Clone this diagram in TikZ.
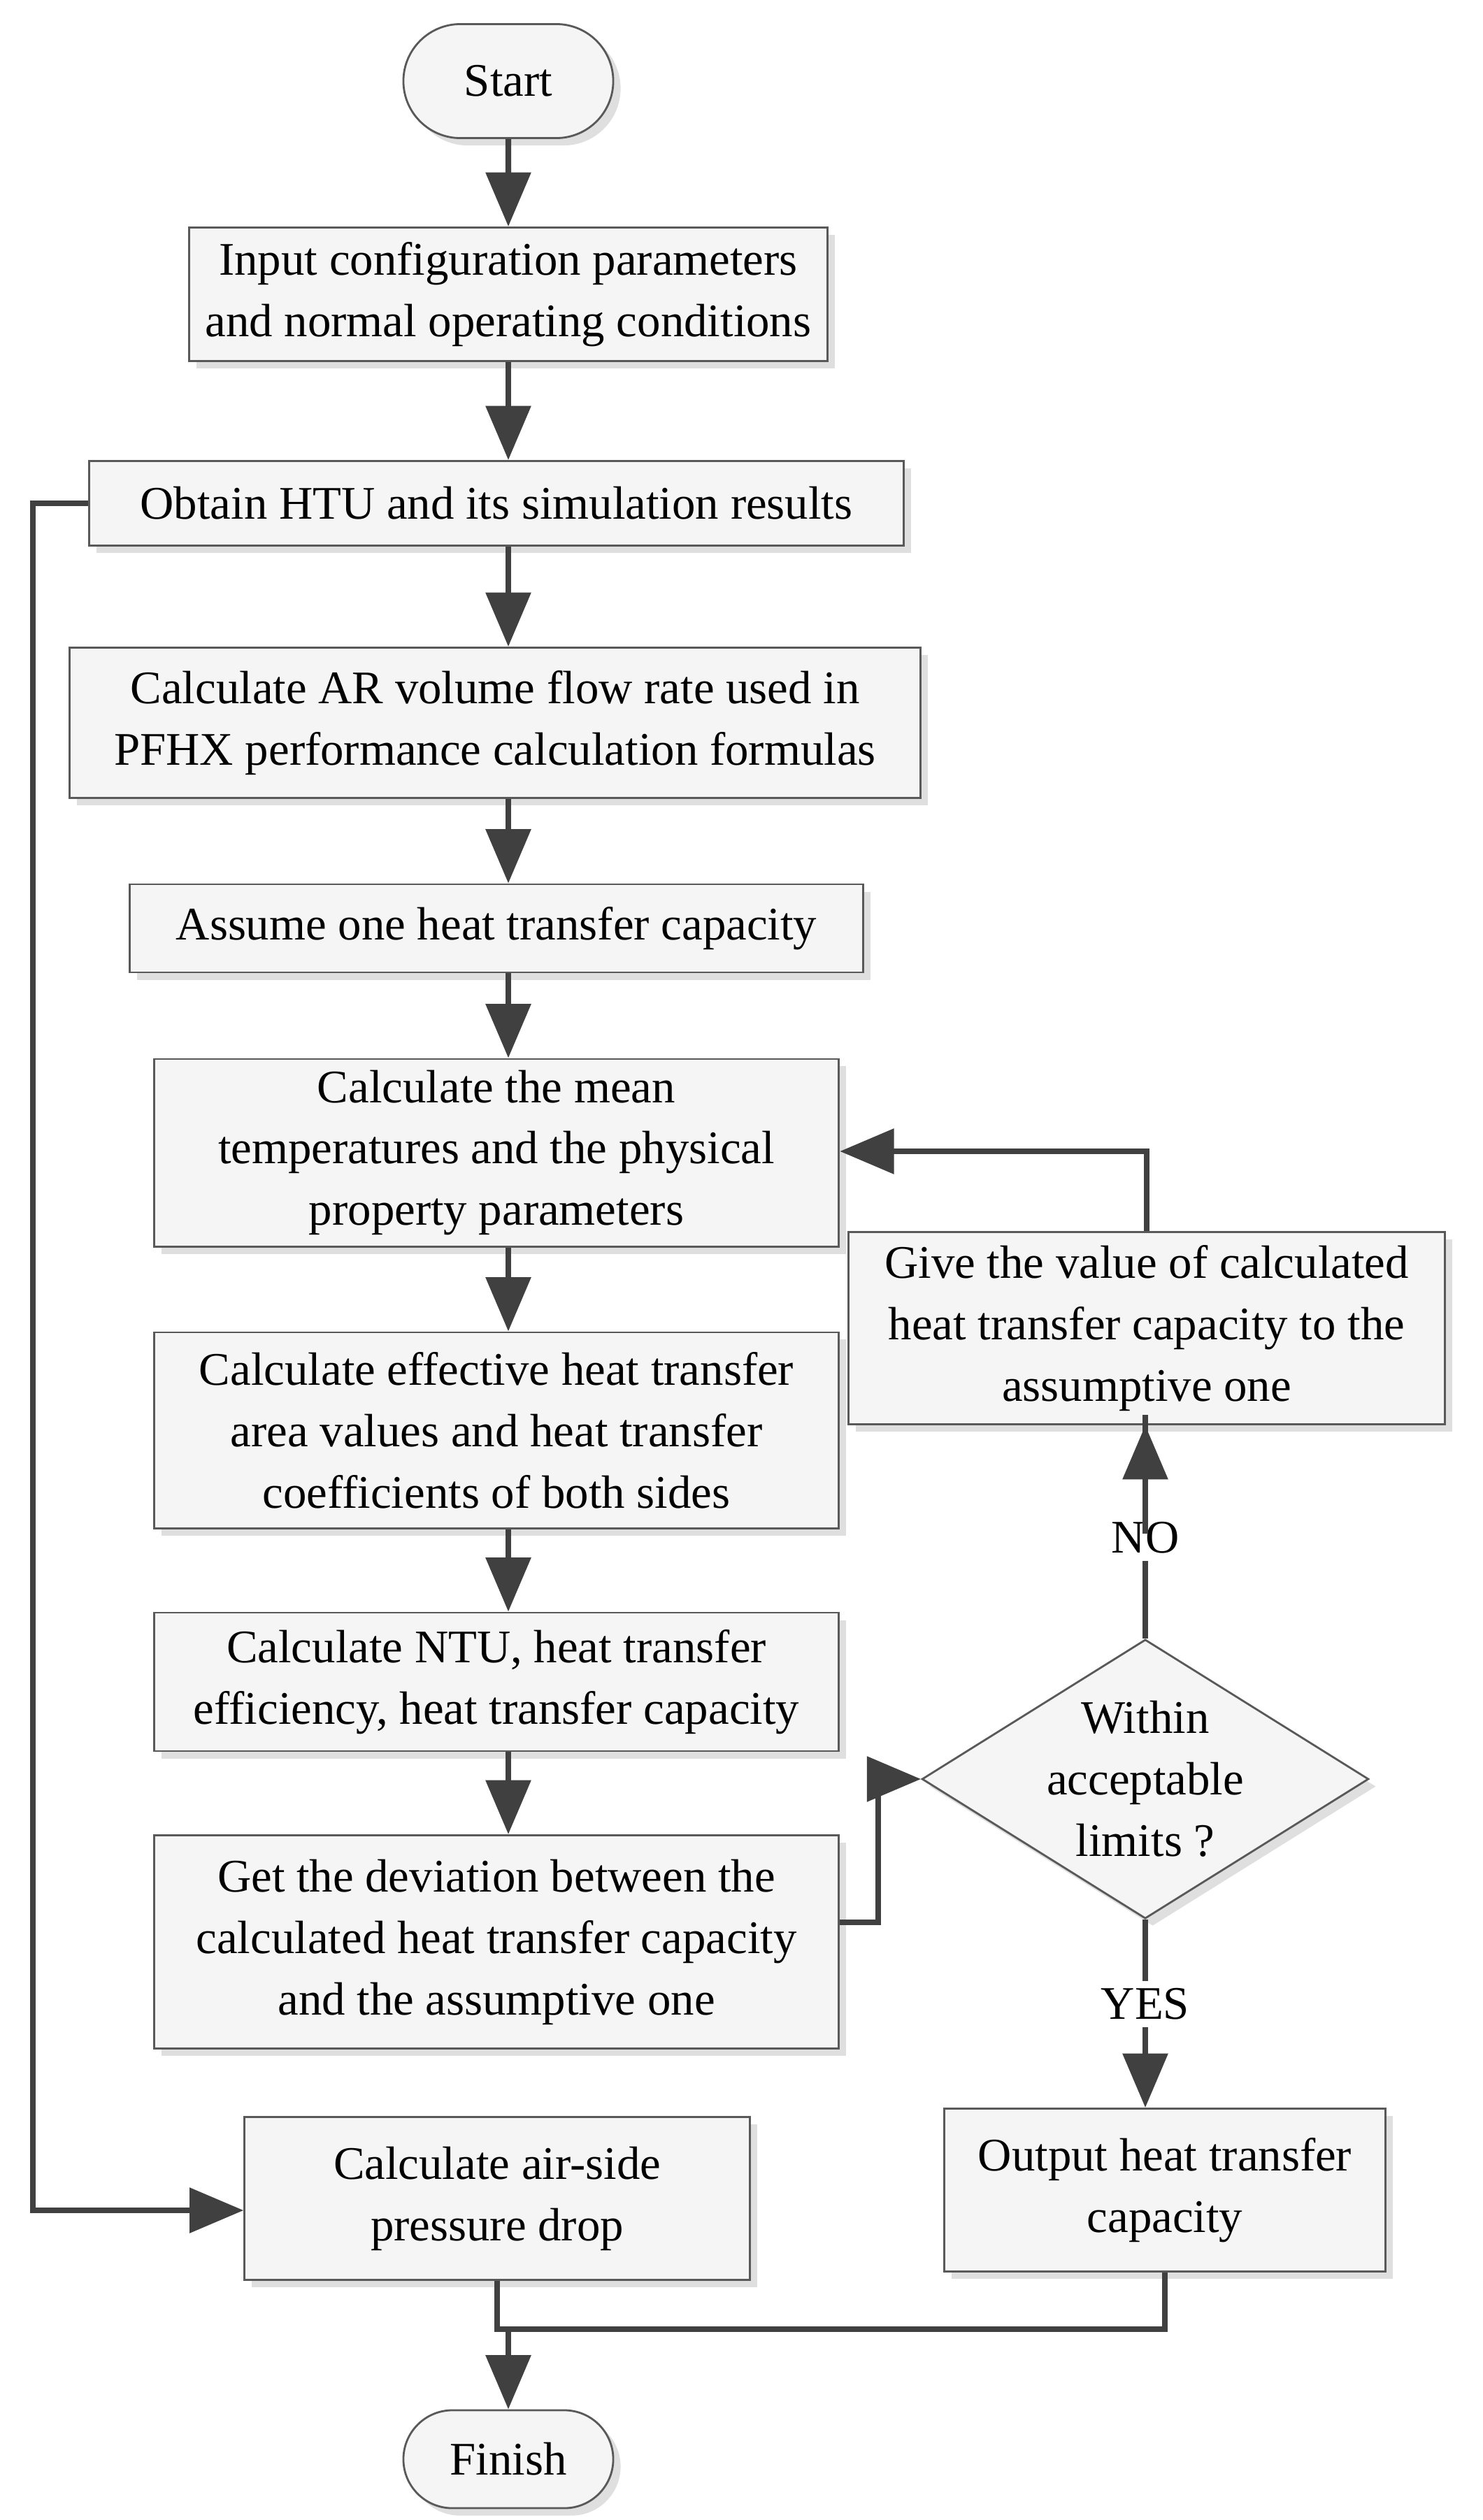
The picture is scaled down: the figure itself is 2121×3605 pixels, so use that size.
\documentclass[tikz,border=0pt]{standalone}
\usepackage{fontspec}
\setmainfont{Liberation Serif}
\usetikzlibrary{shapes.geometric,shapes.misc,arrows.meta,shadows}
\begin{document}
\begin{tikzpicture}[x=0.01cm,y=-0.01cm,
  box/.style={draw=gray!70!black,line width=0.8pt,fill=gray!8,drop shadow={shadow xshift=3pt,shadow yshift=-3pt,opacity=0.25},
    align=center,font=\fontsize{19}{25}\selectfont,inner sep=2pt},
  term/.style={box,rounded rectangle},
  dia/.style={box,diamond,aspect=1.6,inner sep=0pt},
  arr/.style={draw=black!75,line width=2.4pt,-{Triangle[length=22pt,width=18pt]}},
  ln/.style={draw=black!75,line width=2.4pt},
  lab/.style={font=\fontsize{19}{25}\selectfont,fill=white,inner sep=3pt}]
\useasboundingbox (0,0) rectangle (2121,3605);
\node[term,minimum width=3.14cm,minimum height=1.63cm] (start) at (727,116) {Start};
\node[box,minimum width=9.13cm,minimum height=1.91cm] (inp) at (727,421) {Input configuration parameters\\and normal operating conditions};
\node[box,minimum width=11.65cm,minimum height=1.21cm] (obt) at (710,720) {Obtain HTU and its simulation results};
\node[box,minimum width=12.16cm,minimum height=2.15cm] (ar) at (708,1034) {Calculate AR volume flow rate used in\\PFHX performance calculation formulas};
\node[box,minimum width=10.49cm,minimum height=1.26cm] (ass) at (710,1328) {Assume one heat transfer capacity};
\node[box,minimum width=9.79cm,minimum height=2.68cm] (mean) at (710,1649) {Calculate the mean\\temperatures and the physical\\property parameters};
\node[box,minimum width=9.79cm,minimum height=2.8cm] (eff) at (710,2046) {Calculate effective heat transfer\\area values and heat transfer\\coefficients of both sides};
\node[box,minimum width=9.79cm,minimum height=1.98cm] (ntu) at (710,2406) {Calculate NTU, heat transfer\\efficiency, heat transfer capacity};
\node[box,minimum width=9.79cm,minimum height=3.05cm] (dev) at (710,2778) {Get the deviation between the\\calculated heat transfer capacity\\and the assumptive one};
\node[box,minimum width=7.22cm,minimum height=2.33cm] (air) at (711,3145) {Calculate air-side\\pressure drop};
\node[term,minimum width=3.14cm,minimum height=1.4cm] (fin) at (727,3518) {Finish};
\node[box,minimum width=8.53cm,minimum height=2.75cm] (give) at (1640,1900) {Give the value of calculated\\heat transfer capacity to the\\assumptive one};
\node[dia,minimum width=5.39cm,minimum height=3.41cm,align=center] (dec) at (1638,2545) {Within\\acceptable\\limits ?};
\node[box,minimum width=6.3cm,minimum height=2.33cm] (out) at (1666,3133) {Output heat transfer\\capacity};
\path[arr] (start) -- (inp);
\path[arr] (inp.south) -- (inp.south|-obt.north);
\path[arr] (obt.south-|inp.south) -- (inp.south|-ar.north);
\path[arr] (ar.south-|inp.south) -- (inp.south|-ass.north);
\path[arr] (ass.south-|inp.south) -- (inp.south|-mean.north);
\path[arr] (mean.south-|inp.south) -- (inp.south|-eff.north);
\path[arr] (eff.south-|inp.south) -- (inp.south|-ntu.north);
\path[arr] (ntu.south-|inp.south) -- (inp.south|-dev.north);
\coordinate (j1) at (1256,2750);
\path[arr] (dev.east|-j1) -- (j1) |- (dec.west);
\path[ln] (dec.north) -- node[lab,pos=0.45]{NO} ++(0,-320);
\path[arr] (dec.north)++(0,-150) -- (give.south-|dec.north);
\coordinate (j2) at (1640,1647);
\path[arr] (give.north) |- (mean.east|-j2);
\path[arr] (dec.south) -- node[lab,pos=0.45]{YES} (dec.south|-out.north);
\coordinate (j3) at (47,3162);
\path[arr] (obt.west) -| (j3) -- (air.west|-j3);
\coordinate (j4) at (727,3332);
\path[ln] (air.south) |- (j4) -| (out.south);
\path[arr] (j4) -- (fin.north);
\end{tikzpicture}
\end{document}
